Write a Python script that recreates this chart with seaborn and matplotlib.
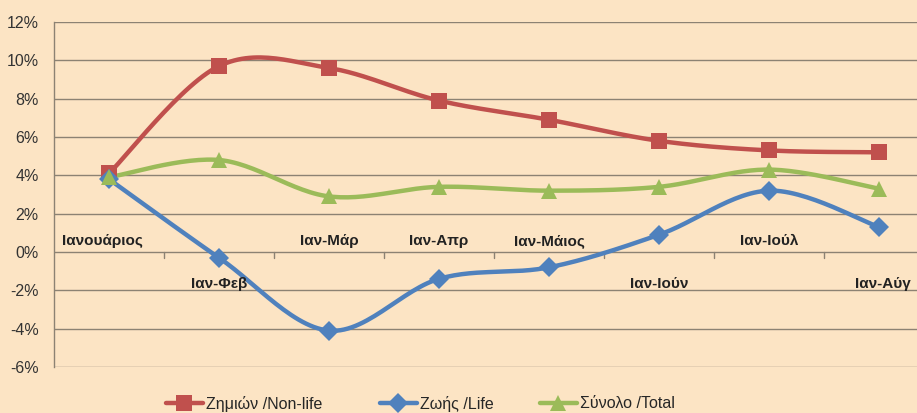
import numpy as np
import pandas as pd
import matplotlib
matplotlib.use("Agg")
import matplotlib.pyplot as plt
from matplotlib.lines import Line2D
import seaborn as sns

# data (percent)
categories = ["Ιανουάριος", "Ιαν-Φεβ", "Ιαν-Μάρ", "Ιαν-Απρ",
              "Ιαν-Μάιος", "Ιαν-Ιούν", "Ιαν-Ιούλ", "Ιαν-Αύγ"]
non_life = [4.1, 9.7, 9.6, 7.9, 6.9, 5.8, 5.3, 5.2]
life = [3.8, -0.3, -4.1, -1.4, -0.8, 0.9, 3.2, 1.3]
total = [3.9, 4.8, 2.9, 3.4, 3.2, 3.4, 4.3, 3.3]
series_names = ["Ζημιών /Non-life", "Ζωής /Life", "Σύνολο /Total"]
# label above (True) or below (False) the zero line
label_above = [True, False, True, True, True, False, True, False]
yticks = [-6, -4, -2, 0, 2, 4, 6, 8, 10, 12]

BG = "#FCE4C4"
GRID = "#8C8273"
COLORS = ["#C0504D", "#4F81BD", "#9BBB59"]
MARKERS = ["s", "D", "^"]
MSIZES = [11, 10, 12]
FONT = ["Liberation Sans", "DejaVu Sans"]


def smooth(x, y, n=30):
    """Catmull-Rom curve through the points, like Excel's smoothed line."""
    x = np.asarray(x, float)
    y = np.asarray(y, float)
    px = np.concatenate([[x[0]], x, [x[-1]]])
    py = np.concatenate([[y[0]], y, [y[-1]]])
    xs, ys = [], []
    t = np.linspace(0, 1, n)
    for i in range(1, len(px) - 2):
        for p, out in ((px, xs), (py, ys)):
            p0, p1, p2, p3 = p[i - 1], p[i], p[i + 1], p[i + 2]
            out.extend(0.5 * ((2 * p1) + (-p0 + p2) * t
                              + (2 * p0 - 5 * p1 + 4 * p2 - p3) * t ** 2
                              + (-p0 + 3 * p1 - 3 * p2 + p3) * t ** 3))
    return np.array(xs), np.array(ys)


sns.set_style("white")
plt.rcParams["font.family"] = FONT

fig = plt.figure(figsize=(9.17, 4.13), dpi=100)
fig.patch.set_facecolor(BG)
ax = fig.add_axes([54 / 917, 46 / 413, 880 / 917, 345 / 413])
ax.set_facecolor(BG)

x = np.arange(len(categories))
frames = []
for name, vals in zip(series_names, [non_life, life, total]):
    sx, sy = smooth(x, vals)
    frames.append(pd.DataFrame({"x": sx, "y": sy, "series": name}))
curves = pd.concat(frames, ignore_index=True)

sns.lineplot(data=curves, x="x", y="y", hue="series", palette=COLORS,
             linewidth=3.2, sort=False, estimator=None, legend=False, ax=ax,
             zorder=3)
for vals, c, m, ms in zip([non_life, life, total], COLORS, MARKERS, MSIZES):
    ax.plot(x, vals, linestyle="none", marker=m, markersize=ms, color=c,
            markeredgewidth=0, zorder=4)

ax.set_xlim(-0.5, len(categories) - 0.5)
ax.set_ylim(-6, 12)
ax.set_yticks(yticks)
ax.set_yticklabels([f"{v}%" for v in yticks], fontsize=11.5, color="#333333")
ax.yaxis.grid(True, color=GRID, linewidth=1)
ax.set_axisbelow(True)
ax.tick_params(axis="y", length=7, width=1, color=GRID, pad=4)
ax.set_xticks([])
ax.set_xlabel("")
ax.set_ylabel("")
for s in ["top", "right", "bottom"]:
    ax.spines[s].set_visible(False)
ax.spines["left"].set_color(GRID)
ax.spines["left"].set_linewidth(1)

# category boundary ticks on the zero line
for b in np.arange(0.5, len(categories) - 0.5):
    ax.plot([b, b], [0, -0.32], color=GRID, linewidth=1, zorder=2)

# category labels inside the plot
for i, (cat, up) in enumerate(zip(categories, label_above)):
    xi, ha = i, "center"
    if i == 0:
        xi, ha = -0.43, "left"
    if i == len(categories) - 1:
        xi, ha = i + 0.29, "right"
    ax.text(xi, 0.55 if up else -1.65, cat, ha=ha, va="center",
            fontsize=11, fontweight="bold", color="#222222", zorder=5)

# legend entries placed one by one, as in the reference
legend_x = [166 / 917, 380 / 917, 540 / 917]
for name, c, m, ms, lx in zip(series_names, COLORS, MARKERS, MSIZES, legend_x):
    h = Line2D([], [], color=c, linewidth=3.2, marker=m, markersize=ms,
               markeredgewidth=0)
    fig.legend([h], [name], loc="center left", bbox_to_anchor=(lx, 9 / 413),
               frameon=False, fontsize=11.5, handlelength=2.3,
               handletextpad=0.2, borderpad=0, borderaxespad=0)

fig.savefig("out.png", dpi=100, facecolor=BG)
